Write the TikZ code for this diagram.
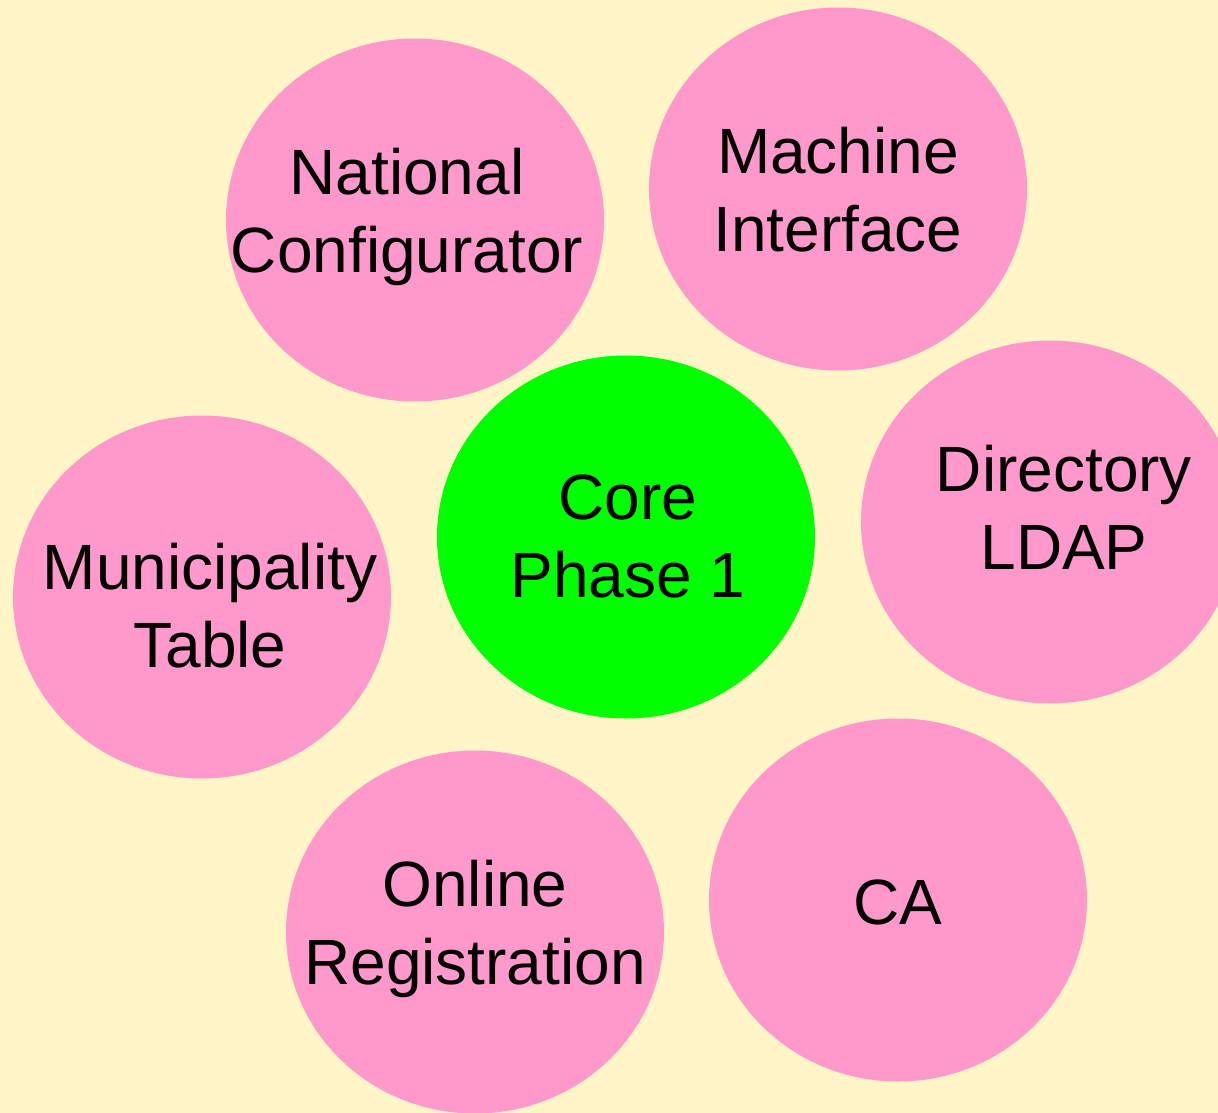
\documentclass[tikz,border=0pt]{standalone}
\usepackage{fontspec}
\setmainfont{Liberation Sans}
\definecolor{bgc}{RGB}{255,245,198}
\definecolor{pinkc}{RGB}{255,153,204}
\definecolor{greenc}{RGB}{0,255,0}
\begin{document}
\begin{tikzpicture}[x=1pt,y=-1pt,
  blob/.style={ellipse,minimum width=378pt,minimum height=363pt,inner sep=0pt,fill=pinkc,draw=none},
  core/.style={blob,fill=greenc},
  lbl/.style={align=center,font=\fontsize{64}{78}\selectfont,inner sep=0pt,text=black}]
\usetikzlibrary{shapes.geometric}
\useasboundingbox (0,0) rectangle (1218,1113);
\fill[bgc] (0,0) rectangle (1218,1113);
\clip (0,0) rectangle (1218,1113);
\node[blob] (nc) at (415,220) {};
\node[blob] (mi) at (838,189) {};
\node[blob] (dl) at (1050,522) {};
\node[core] (cp) at (626,537) {};
\node[blob] (mt) at (202,597) {};
\node[blob] (or) at (475,932) {};
\node[blob] (ca) at (898,900) {};
\node[lbl] (tnc) at (407,217) {National\\Configurator};
\node[lbl] (tmi) at (838,190) {Machine\\Interface};
\node[lbl] (tdl) at (1064,507) {Directory\\LDAP};
\node[lbl] (tcp) at (628,536) {Core\\Phase 1};
\node[lbl] (tmt) at (210,606) {Municipality\\Table};
\node[lbl] (tor) at (475,929) {Online\\Registration};
\node[lbl] (tca) at (898,902) {CA};
\end{tikzpicture}
\end{document}
